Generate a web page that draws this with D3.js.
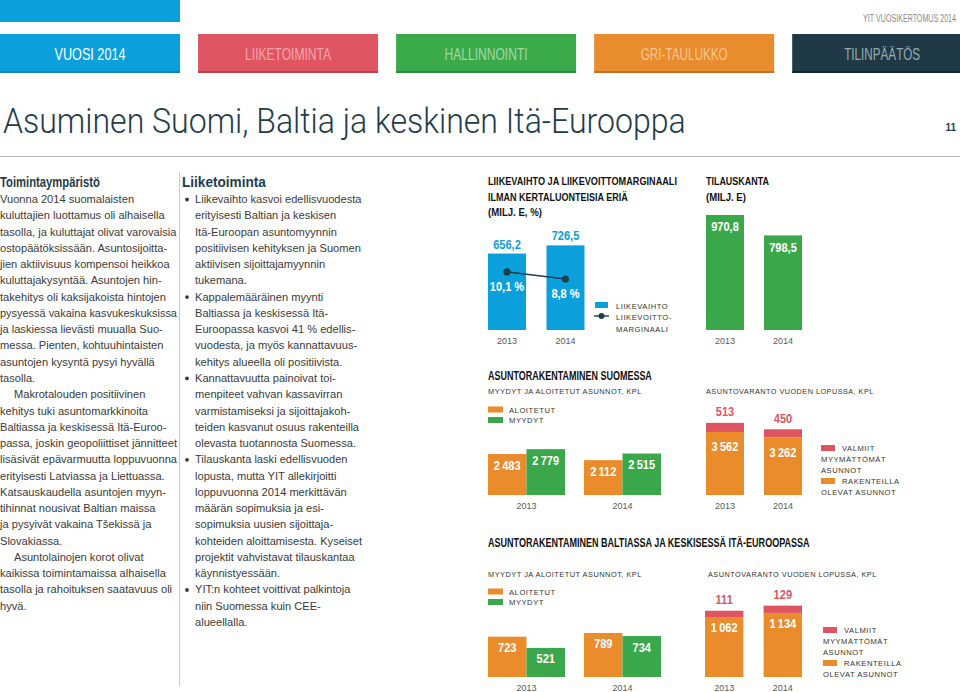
<!DOCTYPE html>
<html><head><meta charset="utf-8">
<script src="https://cdn.jsdelivr.net/npm/d3@7"></script>
<style>body{margin:0;background:#fff}svg{display:block}</style>
</head><body><svg id="c" width="960" height="692"></svg>
<script>
// ---------- data ----------
const years = ["2013", "2014"];
const revenue = [656.2, 726.5];
const ebitMargin = [10.1, 8.8];
const orderBacklog = [970.8, 798.5];
const finStarted = [2483, 2112];
const finSold = [2779, 2515];
const finUnderConstruction = [3562, 3262];
const finUnsold = [513, 450];
const cisStarted = [723, 789];
const cisSold = [521, 734];
const cisUnderConstruction = [1062, 1134];
const cisUnsold = [111, 129];
const navLabels = ["VUOSI 2014", "LIIKETOIMINTA", "HALLINNOINTI", "GRI-TAULUKKO", "TILINPÄÄTÖS"];

const leftText = [
  ["Vuonna 2014 suomalaisten", 0],
  ["kuluttajien luottamus oli alhaisella", 0],
  ["tasolla, ja kuluttajat olivat varovaisia", 0],
  ["ostopäätöksissään. Asuntosijoitta-", 0],
  ["jien aktiivisuus kompensoi heikkoa", 0],
  ["kuluttajakysyntää. Asuntojen hin-", 0],
  ["takehitys oli kaksijakoista hintojen", 0],
  ["pysyessä vakaina kasvukeskuksissa", 0],
  ["ja laskiessa lievästi muualla Suo-", 0],
  ["messa. Pienten, kohtuuhintaisten", 0],
  ["asuntojen kysyntä pysyi hyvällä", 0],
  ["tasolla.", 0],
  ["Makrotalouden positiivinen", 1],
  ["kehitys tuki asuntomarkkinoita", 0],
  ["Baltiassa ja keskisessä Itä-Euroo-", 0],
  ["passa, joskin geopoliittiset jännitteet", 0],
  ["lisäsivät epävarmuutta loppuvuonna", 0],
  ["erityisesti Latviassa ja Liettuassa.", 0],
  ["Katsauskaudella asuntojen myyn-", 0],
  ["tihinnat nousivat Baltian maissa", 0],
  ["ja pysyivät vakaina Tšekissä ja", 0],
  ["Slovakiassa.", 0],
  ["Asuntolainojen korot olivat", 1],
  ["kaikissa toimintamaissa alhaisella", 0],
  ["tasolla ja rahoituksen saatavuus oli", 0],
  ["hyvä.", 0]
];
const midText = [
  ["Liikevaihto kasvoi edellisvuodesta", 1],
  ["erityisesti Baltian ja keskisen", 0],
  ["Itä-Euroopan asuntomyynnin", 0],
  ["positiivisen kehityksen ja Suomen", 0],
  ["aktiivisen sijoittajamyynnin", 0],
  ["tukemana.", 0],
  ["Kappalemääräinen myynti", 1],
  ["Baltiassa ja keskisessä Itä-", 0],
  ["Euroopassa kasvoi 41 % edellis-", 0],
  ["vuodesta, ja myös kannattavuus-", 0],
  ["kehitys alueella oli positiivista.", 0],
  ["Kannattavuutta painoivat toi-", 1],
  ["menpiteet vahvan kassavirran", 0],
  ["varmistamiseksi ja sijoittajakoh-", 0],
  ["teiden kasvanut osuus rakenteilla", 0],
  ["olevasta tuotannosta Suomessa.", 0],
  ["Tilauskanta laski edellisvuoden", 1],
  ["lopusta, mutta YIT allekirjoitti", 0],
  ["loppuvuonna 2014 merkittävän", 0],
  ["määrän sopimuksia ja esi-", 0],
  ["sopimuksia uusien sijoittaja-", 0],
  ["kohteiden aloittamisesta. Kyseiset", 0],
  ["projektit vahvistavat tilauskantaa", 0],
  ["käynnistyessään.", 0],
  ["YIT:n kohteet voittivat palkintoja", 1],
  ["niin Suomessa kuin CEE-", 0],
  ["alueellalla.", 0]
];

// ---------- styles ----------
const C = {
  blue: "#0ba0dc", red: "#de5461", green: "#3aa84a", orange: "#ea8c2c",
  dark: "#1f3c4a", text: "#3a3a3a", year: "#5a5a5a", cap: "#333"
};
const navFill = [C.blue, "#e05562", "#3aaa4b", "#e98c2d", "#1f3a46"];
const navShade = ["#0a86b8", "#b9434e", "#2e8a3c", "#c2731f", "#13262e"];
const navText = ["#ffffff", "#f4a5ad", "#a3d8a8", "#f7c790", "#9aabb3"];
const SANS = "'Liberation Sans', Arial, Helvetica, sans-serif";

const loc = d3.formatLocale({decimal: ",", thousands: "\u2009", grouping: [3], currency: ["", ""]});
const f1 = loc.format(",.1f");
const fi = loc.format(",d");

const svg = d3.select("#c");

// text; o.fit = target width -> horizontally scaled (condensed) via transform
function T(g, x, y, s, o = {}) {
  const t = g.append("text").text(s)
    .attr("font-family", o.family || SANS)
    .attr("font-size", o.size || 11)
    .attr("font-weight", o.weight || 400)
    .attr("fill", o.fill || C.text)
    .attr("text-anchor", o.anchor || "start");
  if (o.ls) t.attr("letter-spacing", o.ls);
  let sx = 1;
  const w = t.node().getComputedTextLength();
  if (o.fit) sx = o.fit / w;
  else if (o.max && w > o.max) sx = o.max / w;
  if (sx !== 1) t.attr("transform", `translate(${x},${y}) scale(${sx},1)`);
  else t.attr("x", x).attr("y", y);
  return t;
}
// condensed value label
function V(g, x, y, s, fill, size = 13) {
  g.append("text").attr("transform", `translate(${x},${y}) scale(0.85,1)`)
    .attr("text-anchor", "middle").attr("font-family", SANS).attr("font-weight", 700)
    .attr("font-size", size).attr("fill", fill).text(s);
}
function capsLabel(g, x, y, s) {
  return T(g, x, y, s, {size: 7.6, ls: 0.55, fill: C.cap});
}

// ---------- header ----------
svg.append("rect").attr("x", 0).attr("y", 0).attr("width", 180).attr("height", 22).attr("fill", C.blue);
T(svg, 956, 22, "YIT VUOSIKERTOMUS 2014", {size: 10, fill: "#8a8a8a", anchor: "end", fit: 93});

const nav = d3.scaleBand().domain(navLabels).range([0, 975]).paddingInner(15 / 195).paddingOuter(0);
navLabels.forEach((l, i) => {
  const x = nav(l), w = 180;
  svg.append("rect").attr("x", x).attr("y", 34).attr("width", w).attr("height", 39).attr("fill", navFill[i]);
  svg.append("rect").attr("x", x).attr("y", 71).attr("width", w).attr("height", 2).attr("fill", navShade[i]);
});
const navLen = [71, 86, 83, 87, 76];
navLabels.forEach((l, i) => {
  T(svg, nav(l) + 90, 59.5, l, {size: 16, fill: navText[i], anchor: "middle", fit: navLen[i]});
});

T(svg, 3, 133, "Asuminen Suomi, Baltia ja keskinen Itä-Eurooppa",
  {family: "Roboto, 'Liberation Sans', sans-serif", size: 35, weight: 300, fill: C.dark, fit: 683});
T(svg, 956, 131, "11", {size: 10, weight: 700, fill: C.dark, anchor: "end"});
svg.append("line").attr("x1", 0).attr("x2", 960).attr("y1", 156.5).attr("y2", 156.5)
  .attr("stroke", "#b5b5b5").attr("stroke-width", 1);

// ---------- text columns ----------
const LH = 16.27;
T(svg, 0, 186.5, "Toimintaympäristö", {size: 14, weight: 700, fill: C.dark, fit: 100});
leftText.forEach(([s, ind], i) => {
  T(svg, ind ? 14 : 0, 203 + i * LH, s, {size: 11.1, max: ind ? 163 : 177});
});
svg.append("line").attr("x1", 179.5).attr("x2", 179.5).attr("y1", 172).attr("y2", 686)
  .attr("stroke", "#c8c8c8").attr("stroke-width", 1);
T(svg, 182, 186.5, "Liiketoiminta", {size: 14, weight: 700, fill: C.dark, fit: 84});
midText.forEach(([s, b], i) => {
  const y = 203 + i * LH;
  if (b) svg.append("circle").attr("cx", 187).attr("cy", y - 3.5).attr("r", 1.9).attr("fill", C.text);
  T(svg, 195, y, s, {size: 11.1, max: 180});
});

// ---------- chart 1: revenue + margin ----------
const g1 = svg.append("g");
const HT = {size: 11, weight: 700, fill: "#111"};
T(g1, 488, 185, "LIIKEVAIHTO JA LIIKEVOITTOMARGINAALI", {...HT, fit: 189});
T(g1, 488, 201, "ILMAN KERTALUONTEISIA ERIÄ", {...HT, fit: 140});
T(g1, 488, 216, "(MILJ. E, %)", {...HT, fit: 54});
const x1 = d3.scaleBand().domain(years).range([488, 584.5]).paddingInner(0.35).paddingOuter(0);
const y1 = d3.scaleLinear().domain([0, 800]).range([330, 330 - 800 * 0.1165]);
const y1m = d3.scaleLinear().domain([0, 20]).range([326.5, 326.5 - 108]);
years.forEach((yr, i) => {
  g1.append("rect").attr("x", x1(yr)).attr("y", y1(revenue[i])).attr("width", x1.bandwidth())
    .attr("height", y1(0) - y1(revenue[i])).attr("fill", C.blue);
  V(g1, x1(yr) + x1.bandwidth() / 2, y1(revenue[i]) - 5, f1(revenue[i]), C.blue);
  T(g1, x1(yr) + x1.bandwidth() / 2, 343.5, yr, {size: 9, fill: C.year, anchor: "middle"});
});
const line1 = d3.line().x((d, i) => x1(years[i]) + x1.bandwidth() / 2).y(d => y1m(d));
g1.append("path").attr("d", line1(ebitMargin)).attr("fill", "none").attr("stroke", C.dark).attr("stroke-width", 1.4);
ebitMargin.forEach((m, i) => {
  const cx = x1(years[i]) + x1.bandwidth() / 2;
  g1.append("circle").attr("cx", cx).attr("cy", y1m(m)).attr("r", 3.6).attr("fill", C.dark);
  V(g1, cx, y1m(m) + 19, f1(m) + " %", "#fff");
});
g1.append("rect").attr("x", 595).attr("y", 302).attr("width", 13).attr("height", 6).attr("fill", C.blue);
capsLabel(g1, 616, 308.5, "LIIKEVAIHTO");
g1.append("line").attr("x1", 594).attr("x2", 609).attr("y1", 316).attr("y2", 316).attr("stroke", C.dark).attr("stroke-width", 1.4);
g1.append("circle").attr("cx", 601.5).attr("cy", 316).attr("r", 3).attr("fill", C.dark);
capsLabel(g1, 616, 319.5, "LIIKEVOITTO-");
capsLabel(g1, 616, 331.5, "MARGINAALI");

// ---------- chart 2: order backlog ----------
const g2 = svg.append("g");
T(g2, 706, 185, "TILAUSKANTA", {...HT, fit: 63});
T(g2, 706, 201, "(MILJ. E)", {...HT, fit: 40});
const x2 = d3.scaleBand().domain(years).range([706, 802]).paddingInner(0.345).paddingOuter(0);
const y2 = d3.scaleLinear().domain([0, 1000]).range([330, 330 - 1000 * 0.1185]);
years.forEach((yr, i) => {
  g2.append("rect").attr("x", x2(yr)).attr("y", y2(orderBacklog[i])).attr("width", x2.bandwidth())
    .attr("height", y2(0) - y2(orderBacklog[i])).attr("fill", C.green);
  V(g2, x2(yr) + x2.bandwidth() / 2, y2(orderBacklog[i]) + 16.5, f1(orderBacklog[i]), "#fff");
  T(g2, x2(yr) + x2.bandwidth() / 2, 343.5, yr, {size: 9, fill: C.year, anchor: "middle"});
});

// ---------- grouped / stacked helpers ----------
function grouped(g, started, sold, base, k, dmax, labelOff) {
  const xo = d3.scaleBand().domain(years).range([488, 661]).paddingInner(0.198).paddingOuter(0);
  const xi = d3.scaleBand().domain(["started", "sold"]).range([0, xo.bandwidth()]).padding(0);
  const y = d3.scaleLinear().domain([0, dmax]).range([base, base - dmax * k]);
  years.forEach((yr, i) => {
    [["started", started[i], C.orange], ["sold", sold[i], C.green]].forEach(([key, v, col]) => {
      const x = xo(yr) + xi(key);
      g.append("rect").attr("x", x).attr("y", y(v)).attr("width", xi.bandwidth())
        .attr("height", y(0) - y(v)).attr("fill", col);
      V(g, x + xi.bandwidth() / 2, y(v) + labelOff, fi(v), "#fff");
    });
    T(g, xo(yr) + xo.bandwidth() / 2, base + 13.5, yr, {size: 9, fill: C.year, anchor: "middle"});
  });
}
function stacked(g, x0, x1r, under, unsold, base, k, dmax, labelOff) {
  const xs = d3.scaleBand().domain(years).range([x0, x1r]).paddingInner(0.345).paddingOuter(0);
  const y = d3.scaleLinear().domain([0, dmax]).range([base, base - dmax * k]);
  years.forEach((yr, i) => {
    const cx = xs(yr) + xs.bandwidth() / 2;
    g.append("rect").attr("x", xs(yr)).attr("y", y(under[i])).attr("width", xs.bandwidth())
      .attr("height", y(0) - y(under[i])).attr("fill", C.orange);
    g.append("rect").attr("x", xs(yr)).attr("y", y(under[i] + unsold[i])).attr("width", xs.bandwidth())
      .attr("height", y(under[i]) - y(under[i] + unsold[i])).attr("fill", C.red);
    V(g, cx, y(under[i]) + labelOff, fi(under[i]), "#fff");
    V(g, cx, y(under[i] + unsold[i]) - 6.5, fi(unsold[i]), C.red);
    T(g, cx, base + 13.5, yr, {size: 9, fill: C.year, anchor: "middle"});
  });
}
function legendGroup(g, y0) {
  g.append("rect").attr("x", 488).attr("y", y0).attr("width", 15).attr("height", 6).attr("fill", C.orange);
  capsLabel(g, 509, y0 + 6, "ALOITETUT");
  g.append("rect").attr("x", 488).attr("y", y0 + 10.5).attr("width", 15).attr("height", 6).attr("fill", C.green);
  capsLabel(g, 509, y0 + 16.5, "MYYDYT");
}
function legendStack(g, x, y0) {
  g.append("rect").attr("x", x).attr("y", y0).attr("width", 14).attr("height", 6).attr("fill", C.red);
  capsLabel(g, x + 21, y0 + 6, "VALMIIT");
  capsLabel(g, x, y0 + 17, "MYYMÄTTÖMÄT");
  capsLabel(g, x, y0 + 28, "ASUNNOT");
  g.append("rect").attr("x", x).attr("y", y0 + 33).attr("width", 14).attr("height", 6).attr("fill", C.orange);
  capsLabel(g, x + 21, y0 + 39, "RAKENTEILLA");
  capsLabel(g, x, y0 + 50, "OLEVAT ASUNNOT");
}

// ---------- chart 3 & 4: Finland ----------
const g3 = svg.append("g");
T(g3, 488, 379.5, "ASUNTORAKENTAMINEN SUOMESSA", {size: 12, weight: 700, fill: "#111", fit: 164});
T(g3, 488, 393.5, "MYYDYT JA ALOITETUT ASUNNOT, KPL", {size: 8, ls: 0.5, fill: C.cap, fit: 154});
legendGroup(g3, 406.5);
grouped(g3, finStarted, finSold, 495, 0.0165, 3000, 15.5);
const g4 = svg.append("g");
T(g4, 706, 393.5, "ASUNTOVARANTO VUODEN LOPUSSA, KPL", {size: 8, ls: 0.5, fill: C.cap, fit: 168});
stacked(g4, 706, 802, finUnderConstruction, finUnsold, 495, 0.0177, 4500, 19.5);
legendStack(g4, 821, 445);

// ---------- chart 5 & 6: Baltics & CEE ----------
const g5 = svg.append("g");
T(g5, 488, 546.5, "ASUNTORAKENTAMINEN BALTIASSA JA KESKISESSÄ ITÄ-EUROOPASSA", {size: 12, weight: 700, fill: "#111", fit: 322});
T(g5, 488, 576.5, "MYYDYT JA ALOITETUT ASUNNOT, KPL", {size: 8, ls: 0.5, fill: C.cap, fit: 154});
legendGroup(g5, 588.5);
grouped(g5, cisStarted, cisSold, 677, 0.0558, 1000, 15.5);
const g6 = svg.append("g");
T(g6, 708, 576.5, "ASUNTOVARANTO VUODEN LOPUSSA, KPL", {size: 8, ls: 0.5, fill: C.cap, fit: 169});
stacked(g6, 705, 802, cisUnderConstruction, cisUnsold, 677, 0.0565, 1500, 15.5);
legendStack(g6, 823, 627);
</script>
</body></html>
